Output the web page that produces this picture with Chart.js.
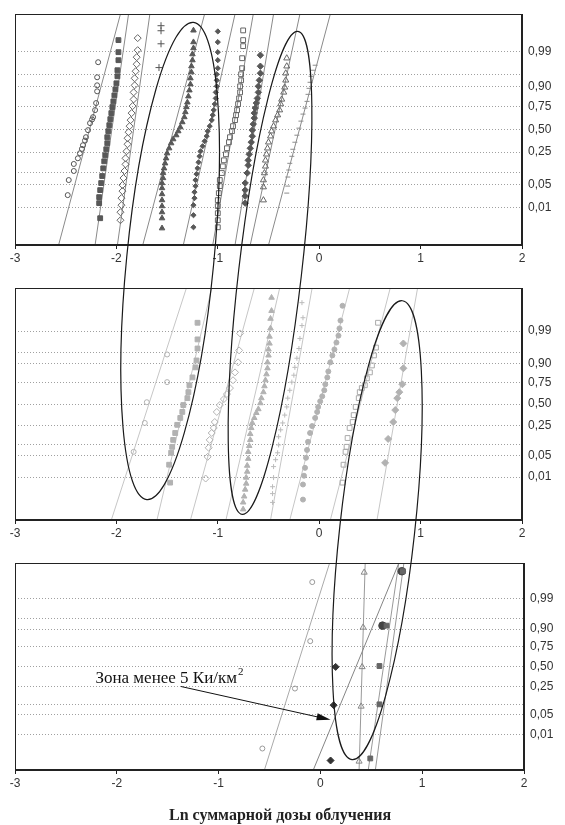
<!DOCTYPE html>
<html>
<head>
<meta charset="utf-8">
<script src="https://cdn.jsdelivr.net/npm/chart.js@4.4.0/dist/chart.umd.min.js"></script>
<style>
    html, body { margin: 0; padding: 0; background: #fff; }
    #wrap { position: relative; width: 565px; height: 825px; }
    #wrap canvas { position: absolute; left: 0; }
    #c1 { top: 0; }
    #c2 { top: 275px; }
    #c3 { top: 550px; }
    #ov { top: 0; pointer-events: none; }
</style>
</head>
<body>
<div id="wrap">
    <canvas id="c1" width="565" height="275"></canvas>
    <canvas id="c2" width="565" height="275"></canvas>
    <canvas id="c3" width="565" height="275"></canvas>
    <canvas id="ov" width="565" height="825"></canvas>
</div>
<script>
// Оси
const xTickLabels = ['-3', '-2', '-1', '0', '1', '2'];
const probLabels = ['0,99', '', '0,90', '0,75', '0,50', '0,25', '', '0,05', '0,01'];
const probZ = [2.326, 1.645, 1.282, 0.674, 0, -0.674, -1.282, -1.645, -2.326];
const xAxisTitle = 'Ln суммарной дозы облучения';

// Панель 1: [ln дозы, квантиль]
const p1Circles = [[-2.48,-1.96],[-2.47,-1.51],[-2.42,-1.24],[-2.42,-1.03],[-2.38,-0.86],[-2.36,-0.71],[-2.34,-0.58],[-2.33,-0.47],[-2.31,-0.33],[-2.30,-0.23],[-2.28,-0.02],[-2.26,0.19],[-2.24,0.30],[-2.23,0.37],[-2.21,0.58],[-2.20,0.79],[-2.19,1.14],[-2.19,1.32],[-2.19,1.56],[-2.18,2.01]];
const p1Squares = [[-2.16,-2.65],[-2.17,-2.20],[-2.17,-2.02],[-2.16,-1.81],[-2.15,-1.60],[-2.14,-1.39],[-2.13,-1.16],[-2.12,-0.95],[-2.11,-0.77],[-2.10,-0.59],[-2.09,-0.41],[-2.09,-0.23],[-2.08,-0.05],[-2.07,0.13],[-2.06,0.31],[-2.05,0.49],[-2.04,0.67],[-2.03,0.84],[-2.02,1.02],[-2.01,1.20],[-2.00,1.38],[-1.99,1.59],[-1.99,1.77],[-1.98,2.07],[-1.98,2.31],[-1.98,2.67]];
const p1Diamonds = [[-1.96,-2.71],[-1.96,-2.47],[-1.95,-2.26],[-1.95,-2.05],[-1.94,-1.84],[-1.94,-1.66],[-1.93,-1.45],[-1.92,-1.24],[-1.91,-1.04],[-1.91,-0.86],[-1.90,-0.65],[-1.89,-0.44],[-1.89,-0.26],[-1.88,-0.08],[-1.87,0.10],[-1.86,0.28],[-1.85,0.49],[-1.84,0.70],[-1.83,0.90],[-1.83,1.11],[-1.82,1.32],[-1.82,1.53],[-1.81,1.74],[-1.80,1.95],[-1.80,2.16],[-1.79,2.37],[-1.79,2.73]];
const p1Plus = [[-1.56,3.10],[-1.56,2.95],[-1.56,2.56],[-1.58,1.85]];
const p1Triangles = [[-1.55,-2.95],[-1.55,-2.65],[-1.55,-2.47],[-1.55,-2.29],[-1.55,-2.11],[-1.55,-1.93],[-1.55,-1.75],[-1.55,-1.60],[-1.54,-1.45],[-1.54,-1.30],[-1.53,-1.16],[-1.52,-1.01],[-1.51,-0.86],[-1.50,-0.71],[-1.48,-0.56],[-1.46,-0.41],[-1.44,-0.29],[-1.41,-0.17],[-1.39,-0.05],[-1.37,0.07],[-1.35,0.22],[-1.33,0.37],[-1.32,0.52],[-1.31,0.67],[-1.30,0.81],[-1.29,0.99],[-1.28,1.17],[-1.27,1.35],[-1.27,1.53],[-1.26,1.71],[-1.26,1.89],[-1.25,2.07],[-1.25,2.25],[-1.24,2.43],[-1.24,2.61],[-1.24,2.96]];
const p1Dots = [[-1.24,-2.92],[-1.24,-2.56],[-1.24,-2.26],[-1.23,-2.05],[-1.23,-1.87],[-1.22,-1.69],[-1.22,-1.51],[-1.21,-1.33],[-1.20,-1.16],[-1.19,-0.98],[-1.18,-0.80],[-1.17,-0.65],[-1.15,-0.50],[-1.13,-0.35],[-1.11,-0.20],[-1.10,-0.05],[-1.08,0.10],[-1.06,0.28],[-1.05,0.43],[-1.04,0.58],[-1.03,0.76],[-1.02,0.93],[-1.02,1.11],[-1.01,1.29],[-1.01,1.47],[-1.01,1.65],[-1.00,1.83],[-1.00,2.07],[-1.00,2.31],[-1.00,2.61],[-1.00,2.93]];
const p1OpenSquares = [[-1.00,-2.92],[-1.00,-2.71],[-1.00,-2.50],[-1.00,-2.29],[-1.00,-2.11],[-0.99,-1.90],[-0.98,-1.69],[-0.98,-1.51],[-0.96,-1.30],[-0.95,-1.10],[-0.94,-0.92],[-0.92,-0.74],[-0.91,-0.56],[-0.89,-0.38],[-0.88,-0.23],[-0.86,-0.05],[-0.85,0.10],[-0.83,0.28],[-0.82,0.43],[-0.81,0.58],[-0.80,0.76],[-0.79,0.93],[-0.78,1.11],[-0.78,1.29],[-0.77,1.47],[-0.77,1.65],[-0.76,1.83],[-0.76,2.13],[-0.75,2.49],[-0.75,2.67],[-0.75,2.96]];
const p1FilledDiamonds = [[-0.73,-2.20],[-0.73,-1.99],[-0.73,-1.81],[-0.73,-1.60],[-0.71,-1.30],[-0.70,-1.07],[-0.70,-0.92],[-0.69,-0.74],[-0.68,-0.56],[-0.67,-0.38],[-0.66,-0.20],[-0.66,-0.02],[-0.65,0.16],[-0.64,0.34],[-0.64,0.49],[-0.63,0.64],[-0.62,0.79],[-0.61,0.93],[-0.60,1.11],[-0.60,1.29],[-0.59,1.47],[-0.58,1.68],[-0.58,1.89],[-0.58,2.22]];
const p1OpenTriangles = [[-0.55,-2.11],[-0.55,-1.72],[-0.55,-1.51],[-0.54,-1.30],[-0.53,-1.10],[-0.53,-0.92],[-0.52,-0.74],[-0.51,-0.56],[-0.50,-0.38],[-0.48,-0.20],[-0.47,-0.05],[-0.45,0.10],[-0.43,0.28],[-0.41,0.43],[-0.39,0.58],[-0.38,0.76],[-0.37,0.90],[-0.35,1.11],[-0.34,1.26],[-0.33,1.47],[-0.33,1.68],[-0.32,1.89],[-0.32,2.13]];
const p1Dashes = [[-0.32,-1.90],[-0.31,-1.69],[-0.31,-1.42],[-0.30,-1.21],[-0.29,-1.01],[-0.27,-0.80],[-0.26,-0.59],[-0.24,-0.38],[-0.22,-0.17],[-0.20,0.04],[-0.18,0.25],[-0.16,0.46],[-0.14,0.64],[-0.12,0.84],[-0.11,1.05],[-0.10,1.23],[-0.09,1.41],[-0.08,1.59],[-0.06,1.77],[-0.04,1.92]];
// прямые: x у нижнего и у верхнего края панели
const p1LineBottom = [-2.57, -2.21, -1.99, -1.74, -1.34, -1.05, -0.83, -0.68, -0.50];
const p1LineTop = [-1.96, -1.88, -1.67, -1.13, -0.83, -0.65, -0.45, -0.19, 0.11];

// Панель 2
const p2Circles = [[-1.83,-1.52],[-1.72,-0.60],[-1.70,0.06],[-1.50,0.70],[-1.50,1.58]];
const p2Squares = [[-1.47,-2.50],[-1.48,-1.93],[-1.46,-1.55],[-1.45,-1.36],[-1.44,-1.14],[-1.42,-0.92],[-1.40,-0.66],[-1.37,-0.44],[-1.35,-0.25],[-1.34,-0.03],[-1.30,0.19],[-1.29,0.38],[-1.28,0.60],[-1.25,0.85],[-1.22,1.17],[-1.21,1.39],[-1.20,1.77],[-1.20,2.06],[-1.20,2.59]];
const p2Diamonds = [[-1.12,-2.37],[-1.10,-1.68],[-1.09,-1.39],[-1.08,-1.14],[-1.06,-0.92],[-1.04,-0.76],[-1.03,-0.57],[-1.01,-0.25],[-0.98,-0.03],[-0.94,0.16],[-0.91,0.32],[-0.88,0.51],[-0.85,0.76],[-0.83,1.01],[-0.80,1.33],[-0.79,1.71],[-0.78,2.25]];
const p2Triangles = [[-0.75,-3.35],[-0.75,-3.13],[-0.74,-2.94],[-0.73,-2.72],[-0.72,-2.53],[-0.72,-2.34],[-0.71,-2.15],[-0.71,-1.96],[-0.70,-1.74],[-0.70,-1.52],[-0.69,-1.33],[-0.68,-1.14],[-0.68,-0.95],[-0.67,-0.76],[-0.66,-0.60],[-0.64,-0.44],[-0.62,-0.28],[-0.60,-0.16],[-0.58,0.03],[-0.57,0.19],[-0.55,0.38],[-0.54,0.57],[-0.53,0.76],[-0.52,0.95],[-0.51,1.14],[-0.51,1.33],[-0.50,1.55],[-0.50,1.74],[-0.49,1.93],[-0.49,2.15],[-0.48,2.41],[-0.48,2.72],[-0.47,2.97],[-0.47,3.39]];
const p2Crosses = [[-0.46,-3.13],[-0.46,-2.85],[-0.46,-2.63],[-0.45,-2.34],[-0.45,-1.99],[-0.43,-1.77],[-0.41,-1.55],[-0.40,-1.30],[-0.40,-1.04],[-0.38,-0.82],[-0.36,-0.60],[-0.34,-0.35],[-0.32,-0.09],[-0.31,0.19],[-0.29,0.44],[-0.27,0.70],[-0.25,0.92],[-0.24,1.17],[-0.22,1.46],[-0.20,1.77],[-0.19,2.09],[-0.17,2.50],[-0.16,2.75],[-0.17,3.23]];
const p2Dots = [[-0.16,-3.04],[-0.16,-2.56],[-0.15,-2.28],[-0.14,-2.03],[-0.13,-1.71],[-0.12,-1.46],[-0.11,-1.20],[-0.09,-0.92],[-0.07,-0.70],[-0.04,-0.44],[-0.02,-0.25],[-0.01,-0.09],[0.01,0.09],[0.03,0.25],[0.05,0.44],[0.06,0.63],[0.08,0.85],[0.09,1.04],[0.11,1.33],[0.13,1.55],[0.15,1.74],[0.17,1.96],[0.19,2.18],[0.20,2.41],[0.21,2.66],[0.23,3.13]];
const p2OpenSquares = [[0.23,-2.50],[0.24,-1.93],[0.26,-1.52],[0.27,-1.36],[0.28,-1.08],[0.30,-0.76],[0.33,-0.57],[0.34,-0.35],[0.36,-0.09],[0.39,0.19],[0.40,0.38],[0.42,0.51],[0.45,0.60],[0.47,0.82],[0.50,1.01],[0.52,1.23],[0.54,1.55],[0.56,1.80],[0.58,2.59]];
const p2FilledDiamonds = [[0.65,-1.87],[0.68,-1.11],[0.73,-0.57],[0.75,-0.19],[0.77,0.19],[0.79,0.38],[0.82,0.63],[0.83,1.14],[0.83,1.93]];
const p2LineBottom = [-2.05, -1.60, -1.27, -0.92, -0.48, -0.29, 0.11, 0.57];
const p2LineTop = [-1.31, -1.06, -0.64, -0.39, -0.07, 0.30, 0.70, 0.97];

// Панель 3
const p3Circles = [[-0.08,2.89],[-0.10,0.87],[-0.25,-0.75],[-0.57,-2.80]];
const p3Diamonds = [[0.10,-3.21],[0.13,-1.32],[0.15,-0.01]];
const p3Triangles = [[0.43,3.22],[0.42,1.34],[0.41,-0.01],[0.40,-1.36],[0.38,-3.24]];
const p3Squares = [[0.49,-3.14],[0.58,-1.29],[0.58,0.02],[0.65,1.40],[0.81,3.26]];
const p3Blobs = [[0.61,1.40],[0.80,3.26]];
const p3LineBottom = [-0.55, -0.07, 0.38, 0.47, 0.54];
const p3LineTop = [0.09, 0.77, 0.44, 0.77, 0.82];
const p3LineColors = ['#aaaaaa', '#858585', '#999999', '#999999', '#999999'];

// Эллипсы: верх (панель, x, z), низ (панель, x, z), полуширина по x
const ellTopPanel = [0, 0, 1];
const ellTopX = [-1.24, -0.21, 0.82];
const ellTopZ = [3.20, 2.93, 3.29];
const ellBotPanel = [1, 1, 2];
const ellBotX = [-1.70, -0.76, 0.31];
const ellBotZ = [-3.04, -3.51, -3.18];
const ellHalfW = [0.43, 0.31, 0.37];

// Подпись со стрелкой (панель 3)
const noteText = 'Зона менее 5 Ки/км';
const noteSup = '2';
const notePos = [-2.21, -0.55];
const arrowFrom = [-1.37, -0.68];
const arrowTo = [0.10, -1.82];

Chart.defaults.font.family = '"Liberation Sans", Arial, sans-serif';
Chart.defaults.font.size = 12;
Chart.defaults.color = '#333';

function pts(arr) {
    return arr.map(p => ({ x: p[0], y: p[1] }));
}

function marker(arr, style, color, radius, filled) {
    const fill = filled ? color : 'rgba(0,0,0,0)';
    return {
        data: pts(arr),
        showLine: false,
        pointStyle: style,
        pointRadius: radius,
        pointBorderWidth: 1,
        borderColor: color,
        backgroundColor: fill,
        pointBorderColor: color,
        pointBackgroundColor: fill,
        order: 1
    };
}

function fitLines(bottoms, tops, zMin, zMax, colors) {
    return bottoms.map((xb, i) => ({
        data: [{ x: xb, y: zMin }, { x: tops[i], y: zMax }],
        showLine: true,
        pointRadius: 0,
        borderColor: Array.isArray(colors) ? colors[i] : colors,
        backgroundColor: 'rgba(0,0,0,0)',
        borderWidth: 1,
        order: 2
    }));
}

// рамка вокруг области построения
const framePlugin = {
    id: 'frame',
    afterDraw(chart) {
        const { ctx, chartArea: a } = chart;
        ctx.save();
        ctx.strokeStyle = '#222';
        ctx.lineWidth = 1;
        ctx.strokeRect(Math.round(a.left) + 0.5, Math.round(a.top) + 0.5,
            Math.round(a.right - a.left) - 1, Math.round(a.bottom - a.top) - 1);
        ctx.restore();
    }
};

function makePanel(id, datasets, zMin, zMax, padTop, axisH, yAxisW) {
    return new Chart(document.getElementById(id), {
        type: 'scatter',
        data: { datasets: datasets },
        plugins: [framePlugin],
        options: {
            responsive: false,
            animation: false,
            events: [],
            layout: { padding: { left: 15, top: padTop, right: 0, bottom: 0 } },
            plugins: { legend: { display: false }, tooltip: { enabled: false } },
            scales: {
                x: {
                    type: 'linear',
                    position: 'bottom',
                    min: -3,
                    max: 2,
                    afterBuildTicks: s => { s.ticks = xTickLabels.map(t => ({ value: Number(t) })); },
                    afterFit: s => { s.height = axisH; },
                    grid: { display: true, drawOnChartArea: false, drawTicks: true, tickLength: 4, tickColor: '#222' },
                    border: { display: true, color: '#222', width: 1 },
                    ticks: { callback: (v, i) => xTickLabels[i], autoSkip: false, maxRotation: 0, padding: 2, color: '#333' }
                },
                y: {
                    type: 'linear',
                    position: 'right',
                    min: zMin,
                    max: zMax,
                    afterBuildTicks: s => { s.ticks = probZ.map(v => ({ value: v })); },
                    afterFit: s => { s.width = yAxisW; },
                    grid: { color: '#a0a0a0', lineWidth: 1, drawTicks: false },
                    border: { display: true, color: '#222', width: 1, dash: [1, 2] },
                    ticks: { callback: (v, i) => probLabels[i], autoSkip: false, padding: 6, color: '#333' }
                }
            }
        }
    });
}

// 1. Верхняя панель (тёмные маркеры)
const dark = '#585858';
const c1 = makePanel('c1', [
    marker(p1Circles, 'circle', '#555', 2.5, false),
    marker(p1Squares, 'rect', dark, 3.4, true),
    marker(p1Diamonds, 'rectRot', '#666', 3.5, false),
    marker(p1Plus, 'cross', '#555', 3.5, false),
    marker(p1Triangles, 'triangle', dark, 3.2, true),
    marker(p1Dots, 'rectRot', dark, 2.6, true),
    marker(p1OpenSquares, 'rect', '#666', 3.4, false),
    marker(p1FilledDiamonds, 'rectRot', dark, 3.2, true),
    marker(p1OpenTriangles, 'triangle', '#666', 3.5, false),
    marker(p1Dashes, 'line', '#8c8c8c', 2.5, false),
    ...fitLines(p1LineBottom, p1LineTop, -3.45, 3.45, '#8a8a8a')
], -3.45, 3.45, 14, 30, 43);

// 2. Средняя панель (светлые маркеры)
const light = '#b2b2b2';
const c2 = makePanel('c2', [
    marker(p2Circles, 'circle', light, 2.5, false),
    marker(p2Squares, 'rect', light, 3.4, true),
    marker(p2Diamonds, 'rectRot', light, 3.5, false),
    marker(p2Triangles, 'triangle', light, 3.2, true),
    marker(p2Crosses, 'cross', '#bbbbbb', 2.5, false),
    marker(p2Dots, 'circle', light, 2.5, true),
    marker(p2OpenSquares, 'rect', '#aaaaaa', 3.4, false),
    marker(p2FilledDiamonds, 'rectRot', light, 3.5, true),
    ...fitLines(p2LineBottom, p2LineTop, -3.69, 3.69, '#c6c6c6')
], -3.69, 3.69, 12, 30, 43);

// 3. Нижняя панель
const c3 = makePanel('c3', [
    marker(p3Circles, 'circle', '#999', 2.5, false),
    marker(p3Diamonds, 'rectRot', '#333', 3.5, true),
    marker(p3Triangles, 'triangle', '#888', 3.5, false),
    marker(p3Squares, 'rect', '#666', 3.4, true),
    marker(p3Blobs, 'circle', '#444', 3.8, true),
    ...fitLines(p3LineBottom, p3LineTop, -3.535, 3.535, p3LineColors)
], -3.535, 3.535, 10, 55, 41);

// Наложение: эллипсы, стрелка, подписи
const charts = [c1, c2, c3];
const canvasTops = [0, 275, 550];

function page(p, x, z) {
    const ch = charts[p];
    return { x: ch.scales.x.getPixelForValue(x), y: canvasTops[p] + ch.scales.y.getPixelForValue(z) };
}

const ov = document.getElementById('ov').getContext('2d');
ov.strokeStyle = '#1a1a1a';
ov.lineWidth = 1.2;
ellTopX.forEach((tx, i) => {
    const t = page(ellTopPanel[i], tx, ellTopZ[i]);
    const b = page(ellBotPanel[i], ellBotX[i], ellBotZ[i]);
    const sx = charts[0].scales.x;
    const halfW = ellHalfW[i] * (sx.right - sx.left) / 5;
    const cx = (t.x + b.x) / 2, cy = (t.y + b.y) / 2;
    const a = Math.hypot(t.x - b.x, t.y - b.y) / 2;
    const rot = Math.atan2(t.y - b.y, t.x - b.x);
    ov.beginPath();
    ov.ellipse(cx, cy, a, halfW, rot, 0, 2 * Math.PI);
    ov.stroke();
});

// стрелка
const from = page(2, arrowFrom[0], arrowFrom[1]);
const to = page(2, arrowTo[0], arrowTo[1]);
const ang = Math.atan2(to.y - from.y, to.x - from.x);
ov.lineWidth = 1;
ov.strokeStyle = '#111';
ov.fillStyle = '#111';
ov.beginPath();
ov.moveTo(from.x, from.y);
ov.lineTo(to.x - 8 * Math.cos(ang), to.y - 8 * Math.sin(ang));
ov.stroke();
ov.beginPath();
ov.moveTo(to.x, to.y);
ov.lineTo(to.x - 14 * Math.cos(ang) + 3.5 * Math.sin(ang), to.y - 14 * Math.sin(ang) - 3.5 * Math.cos(ang));
ov.lineTo(to.x - 14 * Math.cos(ang) - 3.5 * Math.sin(ang), to.y - 14 * Math.sin(ang) + 3.5 * Math.cos(ang));
ov.closePath();
ov.fill();

// текст подписи
const np = page(2, notePos[0], notePos[1]);
ov.font = '17px "Liberation Serif", "Times New Roman", serif';
ov.textBaseline = 'alphabetic';
ov.fillText(noteText, np.x, np.y);
const w = ov.measureText(noteText).width;
ov.font = '11px "Liberation Serif", "Times New Roman", serif';
ov.fillText(noteSup, np.x + w + 1, np.y - 8);

// подпись оси X
ov.font = 'bold 16px "Liberation Serif", "Times New Roman", serif';
ov.textAlign = 'center';
ov.textBaseline = 'middle';
ov.fillStyle = '#222';
ov.fillText(xAxisTitle, 280, 816);
</script>
</body>
</html>
